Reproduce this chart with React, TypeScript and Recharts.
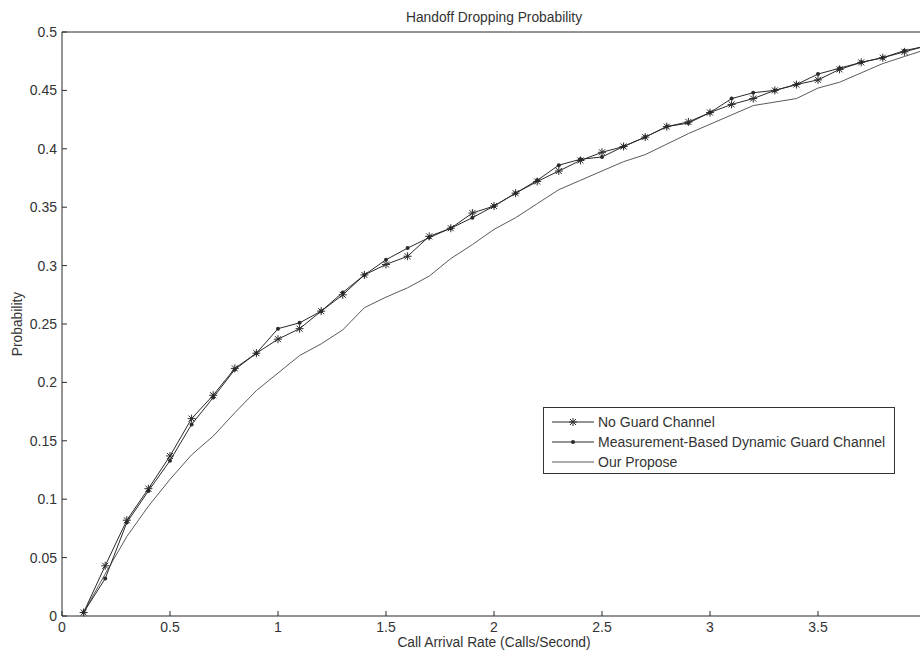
import { LineChart, Line, XAxis, YAxis } from 'recharts'

// call arrival rate (calls/second)
const rates = [
  0.1, 0.2, 0.3, 0.4, 0.5, 0.6, 0.7, 0.8, 0.9, 1.0,
  1.1, 1.2, 1.3, 1.4, 1.5, 1.6, 1.7, 1.8, 1.9, 2.0,
  2.1, 2.2, 2.3, 2.4, 2.5, 2.6, 2.7, 2.8, 2.9, 3.0,
  3.1, 3.2, 3.3, 3.4, 3.5, 3.6, 3.7, 3.8, 3.9, 4.0,
]

const noGuard = [
  0.003, 0.043, 0.082, 0.109, 0.137, 0.169, 0.189, 0.212, 0.225, 0.237,
  0.246, 0.261, 0.275, 0.292, 0.301, 0.308, 0.325, 0.332, 0.345, 0.351,
  0.362, 0.372, 0.381, 0.390, 0.397, 0.402, 0.410, 0.419, 0.423, 0.431,
  0.438, 0.443, 0.450, 0.455, 0.459, 0.468, 0.474, 0.478, 0.483, 0.488,
]

const measured = [
  0.003, 0.032, 0.080, 0.107, 0.133, 0.164, 0.187, 0.211, 0.225, 0.246,
  0.251, 0.261, 0.277, 0.292, 0.305, 0.315, 0.324, 0.332, 0.341, 0.351,
  0.362, 0.373, 0.386, 0.391, 0.393, 0.402, 0.410, 0.419, 0.422, 0.431,
  0.443, 0.448, 0.450, 0.455, 0.464, 0.469, 0.474, 0.478, 0.484, 0.488,
]

const ourPropose = [
  0.003, 0.036, 0.068, 0.094, 0.117, 0.138, 0.154, 0.174, 0.193, 0.208,
  0.223, 0.233, 0.245, 0.264, 0.273, 0.281, 0.291, 0.306, 0.318, 0.331,
  0.341, 0.353, 0.365, 0.373, 0.381, 0.389, 0.395, 0.404, 0.413, 0.421,
  0.429, 0.437, 0.440, 0.443, 0.452, 0.457, 0.465, 0.473, 0.479, 0.485,
]

const xTicks = [0, 0.5, 1, 1.5, 2, 2.5, 3, 3.5, 4]
const yTicks = [0, 0.05, 0.1, 0.15, 0.2, 0.25, 0.3, 0.35, 0.4, 0.45, 0.5]

const FONT = '"Liberation Sans", Arial, Helvetica, sans-serif'
const INK = '#2a2a2a'

const data = rates.map((r, i) => ({ rate: r, noGuard: noGuard[i], measured: measured[i], ours: ourPropose[i] }))

// matlab style '*' marker
const Star = (props: any) => {
  const { cx, cy, index } = props
  if (cx == null || cy == null) return <g key={index} />
  const r = 4, d = 3
  return (
    <g key={index} stroke={INK} strokeWidth={1}>
      <line x1={cx - r} y1={cy} x2={cx + r} y2={cy} />
      <line x1={cx} y1={cy - r} x2={cx} y2={cy + r} />
      <line x1={cx - d} y1={cy - d} x2={cx + d} y2={cy + d} />
      <line x1={cx - d} y1={cy + d} x2={cx + d} y2={cy - d} />
    </g>
  )
}

const Dot = (props: any) => {
  const { cx, cy, index } = props
  if (cx == null || cy == null) return <g key={index} />
  return <circle key={index} cx={cx} cy={cy} r={2} fill={INK} stroke="none" />
}

const tickStyle = { fontSize: 14, fill: '#333', fontFamily: FONT }
const labelStyle = { fontSize: 13.8, fill: '#333', fontFamily: FONT }

function LegendRow({ label, marker, color }: { label: string; marker: 'star' | 'dot' | 'none'; color: string }) {
  return (
    <div style={{ display: 'flex', alignItems: 'center', height: 20 }}>
      <svg width={48} height={12} style={{ marginLeft: 6 }}>
        <line x1={2} y1={6} x2={44} y2={6} stroke={color} strokeWidth={1} />
        {marker === 'star' && <Star cx={23} cy={6} index="s" />}
        {marker === 'dot' && <Dot cx={23} cy={6} index="d" />}
      </svg>
      <span>{label}</span>
    </div>
  )
}

export default function App() {
  return (
    <div style={{ position: 'absolute', left: 0, top: 0, width: 920, height: 660, overflow: 'hidden', background: '#fff' }}>
      <LineChart width={940} height={660} data={data} margin={{ top: 31, right: 13, bottom: 0, left: 0 }}>
        <XAxis
          dataKey="rate" type="number" domain={[0, 4]} ticks={xTicks} allowDataOverflow
          height={44} tickSize={-5} tickMargin={11} tick={tickStyle}
          tickFormatter={(v: number) => (v === 4 ? '' : String(v))}
          axisLine={{ stroke: INK }} tickLine={{ stroke: INK }}
          label={{ value: 'Call Arrival Rate (Calls/Second)', position: 'insideBottom', offset: 13, style: labelStyle }}
        />
        <XAxis
          xAxisId="top" orientation="top" dataKey="rate" type="number" domain={[0, 4]} ticks={xTicks}
          height={1} tickSize={-5} tick={false}
          axisLine={{ stroke: INK }} tickLine={{ stroke: INK }}
          label={{ value: 'Handoff Dropping Probability', position: 'top', offset: 9, style: labelStyle }}
        />
        <YAxis
          type="number" domain={[0, 0.5]} ticks={yTicks} width={62}
          tickSize={-5} tickMargin={10} tick={tickStyle} tickFormatter={(v: number) => String(v)}
          axisLine={{ stroke: INK }} tickLine={{ stroke: INK }}
          label={{ value: 'Probability', angle: -90, position: 'insideLeft', offset: 17, style: { ...labelStyle, textAnchor: 'middle' } }}
        />
        <YAxis
          yAxisId="right" orientation="right" type="number" domain={[0, 0.5]} ticks={yTicks} width={1}
          tickSize={-5} tick={false}
          axisLine={{ stroke: INK }} tickLine={{ stroke: INK }}
        />
        <Line dataKey="ours" stroke="#5a5a5a" strokeWidth={1} dot={false} isAnimationActive={false} />
        <Line dataKey="measured" stroke={INK} strokeWidth={1} dot={Dot} isAnimationActive={false} />
        <Line dataKey="noGuard" stroke={INK} strokeWidth={1} dot={Star} isAnimationActive={false} />
      </LineChart>

      <div style={{
        position: 'absolute', left: 543, top: 407, width: 352, height: 67, boxSizing: 'border-box',
        border: '1px solid #333', background: '#fff', fontFamily: FONT, fontSize: 14, color: '#333',
        paddingTop: 4,
      }}>
        <LegendRow label="No Guard Channel" marker="star" color={INK} />
        <LegendRow label="Measurement-Based Dynamic Guard Channel" marker="dot" color={INK} />
        <LegendRow label="Our Propose" marker="none" color="#5a5a5a" />
      </div>
    </div>
  )
}
